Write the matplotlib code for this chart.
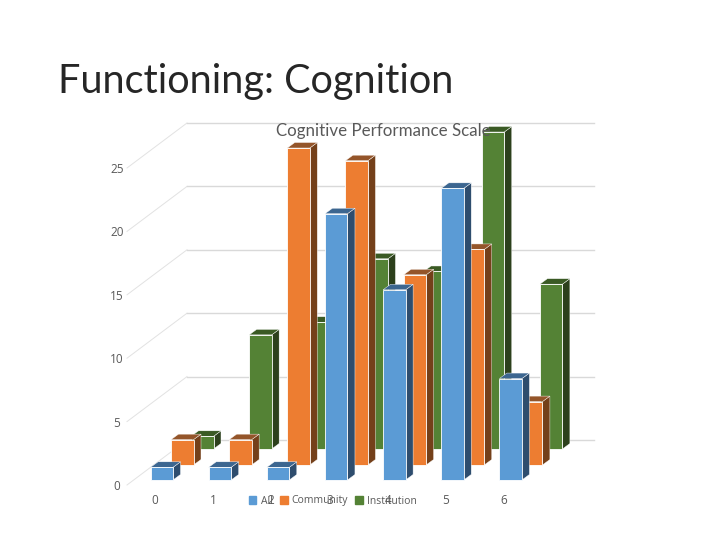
import matplotlib
matplotlib.use("Agg")
import matplotlib.pyplot as plt
from matplotlib.patches import Polygon, Patch

categories = [0, 1, 2, 3, 4, 5, 6]
all_values = [1, 1, 1, 21, 15, 23, 8]
community_values = [2, 2, 25, 24, 15, 17, 5]
institution_values = [1, 9, 10, 15, 14, 25, 13]
y_ticks = [0, 5, 10, 15, 20, 25]

# layout scale (pixels per data unit)
PX_X = 58.15
PX_Y = 12.68
X0_PX = 155
Y0_PX = 480
W, H = 720, 540

fig = plt.figure(figsize=(7.2, 5.4), dpi=100, facecolor="white")
ax = fig.add_axes([0, 0, 1, 1])
ax.set_xlim(-X0_PX / PX_X, (W - X0_PX) / PX_X)
ax.set_ylim((Y0_PX - H) / PX_Y, Y0_PX / PX_Y)
ax.axis("off")

def dx(px):
    return px / PX_X

def dy(px):
    return px / PX_Y

GRAY = "#595959"
plt.rcParams["font.family"] = "Lato"

# walls: gridlines from the front-left corner to the back, then along the back
for t in y_ticks:
    y_front = t + dy(-5)
    y_back = t + dy(40)
    ax.plot([dx(127 - X0_PX), dx(187 - X0_PX)], [y_front, y_back],
            color="#E2E2E2", lw=0.7, zorder=1)
    ax.plot([dx(187 - X0_PX), dx(594 - X0_PX)], [y_back, y_back],
            color="#D9D9D9", lw=1.0, zorder=1)
    ax.text(dx(117 - X0_PX), y_front + dy(-1.5), str(t), ha="center", va="center",
            fontsize=8.5, color=GRAY, family="Open Sans", zorder=6)

for c in categories:
    ax.text(c, dy(-21), str(c), ha="center", va="center",
            fontsize=8.5, color=GRAY, family="Open Sans", zorder=6)

series = [
    # values, x shift, y shift, front, side, top
    (institution_values, 36, 31, "#548235", "#2C401C", "#3A5A24"),
    (community_values, 16, 15, "#ED7D31", "#74401A", "#94552A"),
    (all_values, -4.5, 0, "#5B9BD5", "#2E4D6E", "#3C6690"),
]

BAR_W = 22.5
DEPTH_X = 7.5
DEPTH_Y = 5.5
z = 2
for values, sx, sy, front, side, top in series:
    for c, v in zip(categories, values):
        x0 = c + dx(sx)
        x1 = x0 + dx(BAR_W)
        y0 = dy(sy)
        y1 = y0 + v
        ddx, ddy = dx(DEPTH_X), dy(DEPTH_Y)
        ax.add_patch(Polygon([(x1, y0), (x1 + ddx, y0 + ddy), (x1 + ddx, y1 + ddy), (x1, y1)],
                             facecolor=side, edgecolor="white", lw=0.3, zorder=z))
        ax.add_patch(Polygon([(x0, y1), (x1, y1), (x1 + ddx, y1 + ddy), (x0 + ddx, y1 + ddy)],
                             facecolor=top, edgecolor="white", lw=0.3, zorder=z))
        ax.bar(x0, v, width=dx(BAR_W), bottom=y0, align="edge", color=front,
               edgecolor="white", linewidth=0.6, zorder=z + 0.1)
    z += 1

ax.text(dx(383 - X0_PX), dy(Y0_PX - 131), "Cognitive Performance Scale", ha="center", va="center",
        fontsize=12.2, color=GRAY, family="Lato", zorder=7)
fig.text(58 / W, 1 - 82 / H, "Functioning: Cognition", ha="left", va="center",
         fontsize=28.5, color="#262626", family="Lato")

handles = [Patch(color="#5B9BD5", label="All"),
           Patch(color="#ED7D31", label="Community"),
           Patch(color="#548235", label="Institution")]
leg = ax.legend(handles=handles, ncol=3, loc="center", bbox_to_anchor=(333 / W, 1 - 501 / H),
                frameon=False, labelcolor=GRAY, handlelength=0.75, handleheight=0.75,
                handletextpad=0.4, columnspacing=0.7, borderpad=0,
                prop={"family": "Open Sans", "size": 7.5})
leg.set_zorder(8)

fig.savefig("out.png", dpi=100)
